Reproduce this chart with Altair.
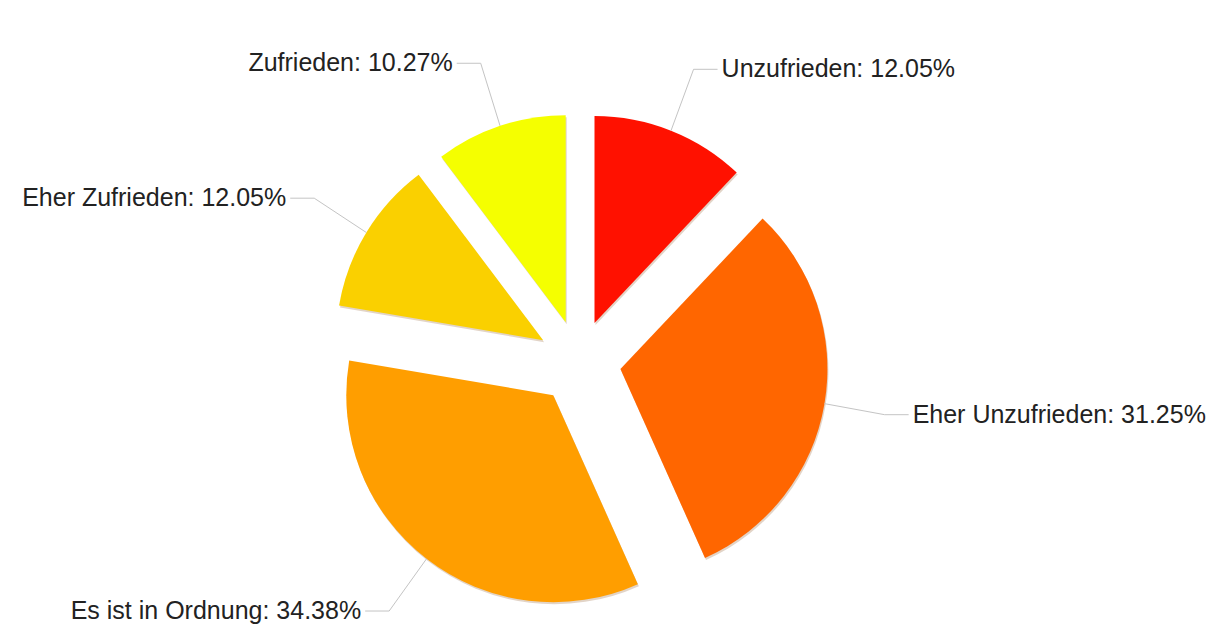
import math
import altair as alt
import pandas as pd

# ---- data ----
categories = ["Unzufrieden", "Eher Unzufrieden", "Es ist in Ordnung", "Eher Zufrieden", "Zufrieden"]
values = [12.05, 31.25, 34.38, 12.05, 10.27]
colors = ["#ff1100", "#ff6600", "#ff9e00", "#fad000", "#f5ff00"]

df = pd.DataFrame({"category": categories, "value": values, "order": list(range(len(categories)))})

# ---- layout constants ----
W, H = 1216, 618
CX, CY = 571, 354        # pie centre
R = 207                  # pie radius
EXPLODE = 42             # slice offset
RX, RY = 310, 315        # label ring
SEG = 24                 # horizontal connector length
FONT = "Liberation Sans"
FS = 25

xs = alt.Scale(domain=[0, W], range=[0, W], nice=False, zero=False)
ys = alt.Scale(domain=[0, H], range=[0, H], nice=False, zero=False)

base = alt.Chart(df).transform_window(
    cum="sum(value)", frame=[None, 0], sort=[alt.SortField("order")]
).transform_calculate(
    start="datum.cum - datum.value",
    mid="(datum.cum - datum.value / 2) / 100 * 2 * PI",
    sx=f"{CX} + {EXPLODE} * sin(datum.mid)",
    sy=f"{CY} - {EXPLODE} * cos(datum.mid)",
    shx="datum.sx + 1",
    shy="datum.sy + 2",
    ax=f"datum.sx + {R} * sin(datum.mid)",
    ay=f"datum.sy - {R} * cos(datum.mid)",
    bx=f"{CX} + {RX} * sin(datum.mid)",
    by=f"{CY} - {RY} * cos(datum.mid)",
    right="sin(datum.mid) >= 0",
    ex=f"datum.bx + (datum.right ? {SEG} : -{SEG})",
    label="datum.category + ': ' + format(datum.value, '.2f') + '%'",
)

theta_scale = alt.Scale(domain=[0, 100], range=[0, 2 * math.pi])

shadow = base.mark_arc(radius=R, color="#7a3a00", opacity=0.22).encode(
    theta=alt.Theta("start:Q", scale=theta_scale, stack=None),
    theta2="cum:Q",
    x=alt.X("shx:Q", scale=xs, axis=None),
    y=alt.Y("shy:Q", scale=ys, axis=None),
)

slices = base.mark_arc(radius=R).encode(
    theta=alt.Theta("start:Q", scale=theta_scale, stack=None),
    theta2="cum:Q",
    x=alt.X("sx:Q", scale=xs, axis=None),
    y=alt.Y("sy:Q", scale=ys, axis=None),
    color=alt.Color("category:N", scale=alt.Scale(domain=categories, range=colors), legend=None),
)

conn1 = base.mark_rule(color="#c4c4c4", strokeWidth=1).encode(
    x=alt.X("ax:Q", scale=xs, axis=None),
    y=alt.Y("ay:Q", scale=ys, axis=None),
    x2="bx:Q",
    y2="by:Q",
)

conn2 = base.mark_rule(color="#c4c4c4", strokeWidth=1).encode(
    x=alt.X("bx:Q", scale=xs, axis=None),
    y=alt.Y("by:Q", scale=ys, axis=None),
    x2="ex:Q",
    y2="by:Q",
)

txt_right = base.transform_filter("datum.right").mark_text(
    align="left", baseline="middle", dx=4, font=FONT, fontSize=FS, color="#222222"
).encode(
    x=alt.X("ex:Q", scale=xs, axis=None),
    y=alt.Y("by:Q", scale=ys, axis=None),
    text="label:N",
)

txt_left = base.transform_filter("!datum.right").mark_text(
    align="right", baseline="middle", dx=-4, font=FONT, fontSize=FS, color="#222222"
).encode(
    x=alt.X("ex:Q", scale=xs, axis=None),
    y=alt.Y("by:Q", scale=ys, axis=None),
    text="label:N",
)

chart = alt.layer(shadow, slices, conn1, conn2, txt_right, txt_left).properties(
    width=W, height=H, padding=0, autosize=alt.AutoSizeParams(type="none")
).configure_view(stroke=None)

chart.save("out.html", embed_options={"renderer": "svg", "actions": False})
